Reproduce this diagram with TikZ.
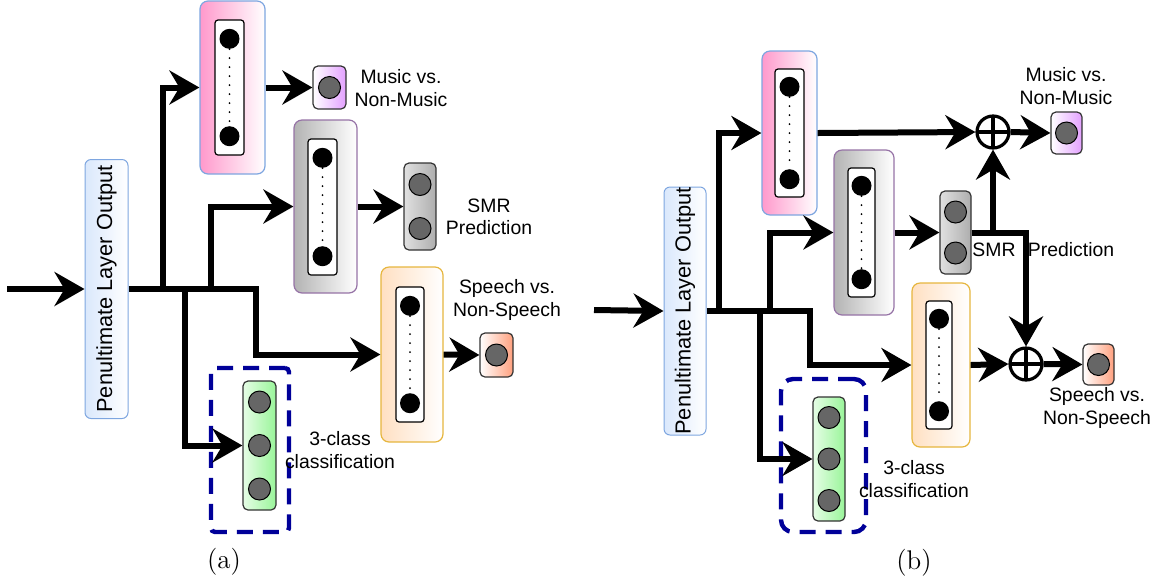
\documentclass[tikz,border=0pt]{standalone}
\usepackage{fontspec}
\usepackage{tikz}
\usetikzlibrary{arrows.meta,positioning,calc}
\newfontfamily\labelfont{Liberation Sans}
\usepackage{xcolor}
\definecolor{PenBlue}{HTML}{DAE8FC}
\definecolor{PenBorder}{HTML}{7EA6E0}
\definecolor{PinkFill}{HTML}{FF99CC}
\definecolor{GreyFill}{HTML}{B3B3B3}
\definecolor{GreyBorder}{HTML}{9673A6}
\definecolor{OrangeFill}{HTML}{FFE0C2}
\definecolor{OrangeBorder}{HTML}{E6B63E}
\definecolor{GreenFill}{HTML}{99F599}
\definecolor{VioletFill}{HTML}{E3A0FF}
\definecolor{SalmonFill}{HTML}{FFA07E}
\definecolor{UnitGrey}{HTML}{666666}
\definecolor{GroupBlue}{HTML}{000099}

\begin{document}
\begin{tikzpicture}[
	x=0.5pt, y=-0.5pt,
	pen box/.style={
		draw=PenBorder,
		left color=PenBlue,
		right color=white,
		rounded corners=3pt,
		line width=0.5pt,
		inner sep=0pt,
		font=\labelfont\fontsize{10.9}{12}\selectfont
	},
	layer box/.style={
		rounded corners=4pt,
		line width=0.6pt,
		right color=white
	},
	inner col/.style={
		draw=black,
		fill=white,
		rounded corners=1.5pt,
		line width=0.6pt
	},
	out box/.style={
		draw=black!80,
		rounded corners=2.5pt,
		line width=0.6pt,
		left color=white
	},
	neuron/.style={
		circle,
		fill=black,
		inner sep=0pt,
		minimum size=10pt
	},
	unit/.style={
		circle,
		draw=black,
		fill=UnitGrey,
		line width=0.5pt,
		inner sep=0pt,
		minimum size=11pt
	},
	dotline/.style={
		line width=1pt,
		line cap=round,
		dash pattern=on 0pt off 4.5pt
	},
	group box/.style={
		draw=GroupBlue,
		line width=2.2pt,
		dash pattern=on 8pt off 5pt
	},
	plus node/.style={
		circle,
		draw=black,
		line width=1.6pt,
		minimum size=16pt,
		inner sep=0pt,
		path picture={
			\draw[line width=1.6pt]
			(path picture bounding box.north) -- (path picture bounding box.south)
			(path picture bounding box.west) -- (path picture bounding box.east);
		}
	},
	label text/.style={
		align=center,
		font=\labelfont\fontsize{9.7}{11.3}\selectfont
	},
	% thick connector with arrow
	arrow/.style={
		draw=black,
		line width=3pt,
		-{Stealth[length=15pt,width=17pt,inset=5pt]}
	}
	]
	\useasboundingbox (0,0) rectangle (1170,585);
	
	% ================= (a) NODES =================
	\node[pen box, minimum width=21.5pt, minimum height=129.5pt] (pa) at (106.5,289) {\rotatebox{90}{Penultimate Layer Output}};
	
	\node[layer box, draw=PenBorder, left color=PinkFill, minimum width=32.5pt, minimum height=86.5pt] (pka) at (232.5,87.5) {};
	\node[inner col, minimum width=14.5pt, minimum height=67.5pt] (ika) at (229.5,87.5) {};
	\node[neuron, below=4.5pt of ika.north] (ika-t) {};
	\node[neuron, above=4.5pt of ika.south] (ika-b) {};
	
	\node[layer box, draw=GreyBorder, left color=GreyFill, minimum width=31.5pt, minimum height=86.5pt] (gya) at (325.5,206.5) {};
	\node[inner col, minimum width=14.5pt, minimum height=68pt] (iga) at (322.5,207) {};
	\node[neuron, below=4.5pt of iga.north] (iga-t) {};
	\node[neuron, above=4.5pt of iga.south] (iga-b) {};
	
	\node[layer box, draw=OrangeBorder, left color=OrangeFill, minimum width=31pt, minimum height=87.5pt] (ora) at (412,354.5) {};
	\node[inner col, minimum width=14pt, minimum height=67.5pt] (ioa) at (410,354.5) {};
	\node[neuron, below=4.5pt of ioa.north] (ioa-t) {};
	\node[neuron, above=4.5pt of ioa.south] (ioa-b) {};
	
	\node[out box, right color=VioletFill, minimum width=16.5pt, minimum height=21.5pt] (mua) at (329.5,87.5) {};
	\node[unit] at (mua) {};
	
	\node[out box, left color=white!88!black, right color=white!68!black, minimum width=16pt, minimum height=43.5pt] (sma) at (420,206.5) {};
	\node[unit, yshift=11pt] at (sma) {};
	\node[unit, yshift=-11pt] at (sma) {};
	
	\node[out box, right color=SalmonFill, minimum width=16.5pt, minimum height=22pt] (spa) at (496.5,355) {};
	\node[unit] at (spa) {};
	
	\node[out box, left color=GreenFill!25, right color=GreenFill, minimum width=16.5pt, minimum height=64.5pt] (gra) at (259.5,445.5) {};
	\foreach \dy in {-21.75,0,21.75}
		\node[unit] at ([yshift=\dy pt]gra.center) {};
	\node[group box, rounded corners=2pt, minimum width=39pt, minimum height=82pt] (dasha) at (250,450) {};
	
	\node[label text] (mula) at (401,88) {Music vs.\\Non-Music};
	\node[label text] (smla) at (489,217) {SMR\\Prediction};
	\node[label text] (spla) at (507,300) {Speech vs.\\Non-Speech};
	\node[label text] (cla) at (340,450) {3-class\\classification};
	\node[font=\fontsize{13.5}{15}\selectfont] (capa) at (224,562) {(a)};
	
	% ================= (a) EDGES =================
	\coordinate (ina) at (7,289);
	\coordinate (ja0) at (256,289);
	\coordinate (ja1) at (163,289);
	\coordinate (ja2) at (211,289);
	\coordinate (ja3) at (185,289);
	
	\draw[dotline] (ika-t) -- (ika-b);
	\draw[dotline] (iga-t) -- (iga-b);
	\draw[dotline] (ioa-t) -- (ioa-b);
	
	\draw[arrow] (ina) -- (pa.west);
	\draw[arrow] (pa.east) -- (ja0) |- (ora.west);
	\draw[arrow] (ja1) |- (pka.west);
	\draw[arrow] (ja2) |- (gya.west);
	\draw[arrow] (ja3) |- (gra.west);
	\draw[arrow] (pka.east) -- (mua.west);
	\draw[arrow] (gya.east) -- (sma.west);
	\draw[arrow] (ora.east) -- (spa.west);
	
	% ================= (b) NODES =================
	\node[pen box, minimum width=21pt, minimum height=124pt] (pb) at (685,311) {\rotatebox{90}{Penultimate Layer Output}};
	
	\node[layer box, draw=PenBorder, left color=PinkFill, minimum width=27.5pt, minimum height=82pt] (pkb) at (789.5,133) {};
	\node[inner col, minimum width=14.5pt, minimum height=64pt] (ikb) at (789.5,133) {};
	\node[neuron, below=4pt of ikb.north] (ikb-t) {};
	\node[neuron, above=4pt of ikb.south] (ikb-b) {};
	
	\node[layer box, draw=GreyBorder, left color=GreyFill, minimum width=30pt, minimum height=82.5pt] (gyb) at (864,232.5) {};
	\node[inner col, minimum width=13.5pt, minimum height=64.5pt] (igb) at (861.5,232.5) {};
	\node[neuron, below=4pt of igb.north] (igb-t) {};
	\node[neuron, above=4pt of igb.south] (igb-b) {};
	
	\node[layer box, draw=OrangeBorder, left color=OrangeFill, minimum width=29pt, minimum height=82pt] (orb) at (941,365) {};
	\node[inner col, minimum width=13pt, minimum height=64pt] (iob) at (939,365) {};
	\node[neuron, below=4pt of iob.north] (iob-t) {};
	\node[neuron, above=4pt of iob.south] (iob-b) {};
	
	\node[plus node] (plus1) at (993,132) {};
	\node[plus node] (plus2) at (1026,364) {};
	
	\node[out box, right color=VioletFill, minimum width=15.5pt, minimum height=21pt] (mub) at (1066.5,133) {};
	\node[unit] at (mub) {};
	
	\node[out box, left color=white!88!black, right color=white!68!black, minimum width=15.5pt, minimum height=41.5pt] (smb) at (955.5,232.5) {};
	\node[unit, yshift=10.25pt] at (smb) {};
	\node[unit, yshift=-10.25pt] at (smb) {};
	
	\node[out box, right color=SalmonFill, minimum width=15.5pt, minimum height=20.5pt] (spb) at (1098.5,364.5) {};
	\node[unit] at (spb) {};
	
	\node[out box, left color=GreenFill!25, right color=GreenFill, minimum width=16pt, minimum height=62pt] (grb) at (829,459) {};
	\foreach \dy in {-20.75,0,20.75}
		\node[unit] at ([yshift=\dy pt]grb.center) {};
	\node[group box, rounded corners=6pt, minimum width=42.5pt, minimum height=76.5pt] (dashb) at (823.5,455.5) {};
	
	\node[label text] (mulb) at (1066,86) {Music vs.\\Non-Music};
	\node[label text] (smlb) at (994,250) {SMR};
	\node[label text] (prlb) at (1071,250) {Prediction};
	\node[label text] (splb) at (1097,408) {Speech vs.\\Non-Speech};
	\node[label text] (clb) at (914,479) {3-class\\classification};
	\node[font=\fontsize{13.5}{15}\selectfont] (capb) at (914,563) {(b)};
	
	% ================= (b) EDGES =================
	\coordinate (inb) at (594,310);
	\coordinate (jb0) at (810,311);
	\coordinate (jb1) at (719,311);
	\coordinate (jb2) at (770,311);
	\coordinate (jb3) at (760,311);
	\coordinate (js) at (plus1 |- smb.east);
	
	\draw[dotline] (ikb-t) -- (ikb-b);
	\draw[dotline] (igb-t) -- (igb-b);
	\draw[dotline] (iob-t) -- (iob-b);
	
	\draw[arrow] (inb) -- (pb.west);
	\draw[arrow] (pb.east) -- (jb0) |- (orb.west);
	\draw[arrow] (jb1) |- (pkb.west);
	\draw[arrow] (jb2) |- (gyb.west);
	\draw[arrow] (jb3) |- (grb.west);
	\draw[arrow] (pkb.east) -- (plus1.west);
	\draw[arrow] (plus1.east) -- (mub.west);
	\draw[arrow] (gyb.east) -- (smb.west);
	\draw[arrow] (smb.east) -| (plus2.north);
	\draw[arrow] (js) -- (plus1.south);
	\draw[arrow] (orb.east) -- (plus2.west);
	\draw[arrow] (plus2.east) -- (spb.west);
	
\end{tikzpicture}
\end{document}
